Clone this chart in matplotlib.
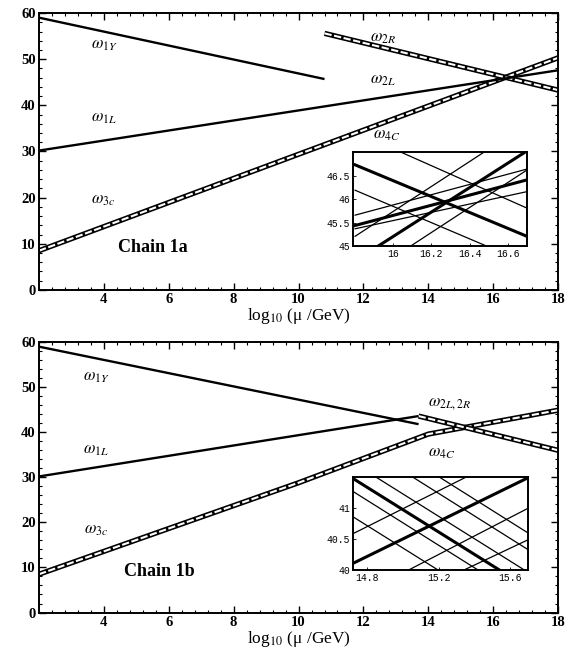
import matplotlib as mpl
import matplotlib.pyplot as plt
from matplotlib.ticker import MultipleLocator, FormatStrFormatter

# ---------------------------------------------------------------------------
# Data
# ---------------------------------------------------------------------------
# Chain 1a (top panel)
A_X_1Y = [2.0, 10.8]
A_Y_1Y = [59.0, 45.7]
A_X_1L = [2.0, 18.0]
A_Y_1L = [30.2, 47.6]
A_X_3C = [2.0, 18.0]
A_Y_3C = [8.5, 50.3]
A_X_2R = [10.8, 18.0]
A_Y_2R = [55.6, 43.3]

# Chain 1b (bottom panel)
B_X_1Y = [2.0, 13.7]
B_Y_1Y = [59.0, 41.8]
B_X_1L = [2.0, 13.7]
B_Y_1L = [30.2, 43.6]
B_X_2LR = [13.7, 18.0]
B_Y_2LR = [43.6, 36.0]
B_X_3C = [2.0, 10.0, 14.0, 18.0]
B_Y_3C = [8.5, 28.8, 39.6, 44.9]

# inset segments (x0, y0, x1, y1), split into heavy and light strokes
INSET_A_HEAVY = [
    (15.80, 46.73, 16.70, 45.21),
    (15.92, 45.00, 16.69, 47.00),
    (15.80, 45.44, 16.70, 46.41),
]
INSET_A_LIGHT = [
    (16.04, 47.00, 16.70, 45.81),
    (15.80, 46.19, 16.49, 45.00),
    (15.80, 45.21, 16.475, 47.00),
    (16.09, 45.00, 16.70, 46.62),
    (15.80, 45.66, 16.70, 46.64),
    (15.80, 45.37, 16.70, 46.16),
]
INSET_B_HEAVY = [
    (14.72, 41.48, 15.54, 40.00),
    (14.72, 40.11, 15.69, 41.48),
]
INSET_B_LIGHT = [
    (14.72, 41.27, 15.42, 40.00),
    (14.72, 40.86, 15.196, 40.00),
    (14.85, 41.50, 15.68, 40.00),
    (15.056, 41.50, 15.70, 40.33),
    (15.205, 41.50, 15.70, 40.60),
    (14.72, 40.59, 15.35, 41.50),
    (15.03, 40.00, 15.70, 41.00),
    (15.34, 40.00, 15.70, 40.49),
]

INSET_A_XTICKS = [16.0, 16.2, 16.4, 16.6]
INSET_A_YTICKS = [45.0, 45.5, 46.0, 46.5]
INSET_B_XTICKS = [14.8, 15.2, 15.6]
INSET_B_YTICKS = [40.0, 40.5, 41.0]

# ---------------------------------------------------------------------------
# Style
# ---------------------------------------------------------------------------
mpl.rcParams.update({
    "font.family": "serif",
    "font.serif": ["Liberation Serif", "DejaVu Serif"],
    "mathtext.fontset": "stix",
    "xtick.direction": "in", "ytick.direction": "in",
    "xtick.top": True, "ytick.right": True,
})

SERIF = "Liberation Serif"
MONO = "Liberation Mono"


def solid(ax, x, y):
    ax.plot(x, y, "-", color="black", linewidth=1.7, solid_capstyle="butt")


def rail(ax, x, y):
    # double line with small rungs, as in the scan
    ax.plot(x, y, "-", color="black", linewidth=3.8, solid_capstyle="butt")
    ax.plot(x, y, color="white", linewidth=1.5, dashes=(3.5, 1.2),
            solid_capstyle="butt", dash_capstyle="butt")


def frame(ax):
    ax.set_xlim(2, 18)
    ax.set_ylim(0, 60)
    ax.xaxis.set_major_locator(MultipleLocator(2))
    ax.xaxis.set_minor_locator(MultipleLocator(0.4))
    ax.yaxis.set_major_locator(MultipleLocator(10))
    ax.yaxis.set_minor_locator(MultipleLocator(2))
    ax.tick_params(which="major", length=5, width=1.0, pad=2.5)
    ax.tick_params(which="minor", length=2.5, width=0.8)
    ax.set_xticks(range(4, 19, 2))
    for lab in ax.get_xticklabels() + ax.get_yticklabels():
        lab.set_fontfamily(SERIF)
        lab.set_fontweight("bold")
        lab.set_fontsize(10.5)
    for s in ax.spines.values():
        s.set_linewidth(1.4)
    ax.set_xlabel(r"log$_{10}$ (μ /GeV)", fontsize=12.5, labelpad=0)


def inset(fig, rect, heavy, light, xlim, ylim, xticks, yticks, xfmt):
    ax = fig.add_axes(rect)
    for x0, y0, x1, y1 in light:
        ax.plot([x0, x1], [y0, y1], color="black", linewidth=0.9)
    for x0, y0, x1, y1 in heavy:
        ax.plot([x0, x1], [y0, y1], color="black", linewidth=2.2)
    ax.set_xlim(*xlim)
    ax.set_ylim(*ylim)
    ax.set_xticks(xticks)
    ax.set_yticks(yticks)
    ax.xaxis.set_major_formatter(FormatStrFormatter(xfmt))
    ax.yaxis.set_major_formatter(FormatStrFormatter("%g"))
    ax.tick_params(length=2, width=0.6, pad=2, top=False, right=False)
    for lab in ax.get_xticklabels() + ax.get_yticklabels():
        lab.set_fontfamily(MONO)
        lab.set_fontsize(7)
    for s in ax.spines.values():
        s.set_linewidth(1.4)
    return ax


fig = plt.figure(figsize=(5.66, 6.53), dpi=100)

# ---------------- top panel: chain 1a ----------------
axA = fig.add_axes([0.069, 0.556, 0.917, 0.424])
rail(axA, A_X_3C, A_Y_3C)
rail(axA, A_X_2R, A_Y_2R)
solid(axA, A_X_1Y, A_Y_1Y)
solid(axA, A_X_1L, A_Y_1L)
frame(axA)
lab = dict(fontsize=12, ha="left", va="center")
axA.text(3.6, 53.0, r"$\omega_{1Y}$", **lab)
axA.text(3.6, 37.2, r"$\omega_{1L}$", **lab)
axA.text(3.6, 19.5, r"$\omega_{3c}$", **lab)
axA.text(12.2, 54.5, r"$\omega_{2R}$", **lab)
axA.text(12.2, 45.5, r"$\omega_{2L}$", **lab)
axA.text(12.3, 33.5, r"$\omega_{4C}$", **lab)
axA.text(5.5, 9.1, "Chain 1a", fontsize=13, fontweight="bold",
         fontfamily=SERIF, ha="center", va="center")

inset(fig, [0.624, 0.623, 0.307, 0.144], INSET_A_HEAVY, INSET_A_LIGHT,
      (15.79, 16.7), (45.0, 47.0), INSET_A_XTICKS, INSET_A_YTICKS, "%g")

# ---------------- bottom panel: chain 1b ----------------
axB = fig.add_axes([0.069, 0.062, 0.917, 0.414])
rail(axB, B_X_3C, B_Y_3C)
rail(axB, B_X_2LR, B_Y_2LR)
solid(axB, B_X_1Y, B_Y_1Y)
solid(axB, B_X_1L, B_Y_1L)
frame(axB)
axB.text(3.35, 52.2, r"$\omega_{1Y}$", **lab)
axB.text(3.35, 36.0, r"$\omega_{1L}$", **lab)
axB.text(3.4, 18.3, r"$\omega_{3c}$", **lab)
axB.text(14.0, 46.3, r"$\omega_{2L,2R}$", **lab)
axB.text(14.0, 35.4, r"$\omega_{4C}$", **lab)
axB.text(5.7, 9.2, "Chain 1b", fontsize=13, fontweight="bold",
         fontfamily=SERIF, ha="center", va="center")

inset(fig, [0.624, 0.127, 0.309, 0.142], INSET_B_HEAVY, INSET_B_LIGHT,
      (14.72, 15.70), (40.0, 41.5), INSET_B_XTICKS, INSET_B_YTICKS, "%.1f")

fig.savefig("out.png", dpi=100)
plt.close(fig)
